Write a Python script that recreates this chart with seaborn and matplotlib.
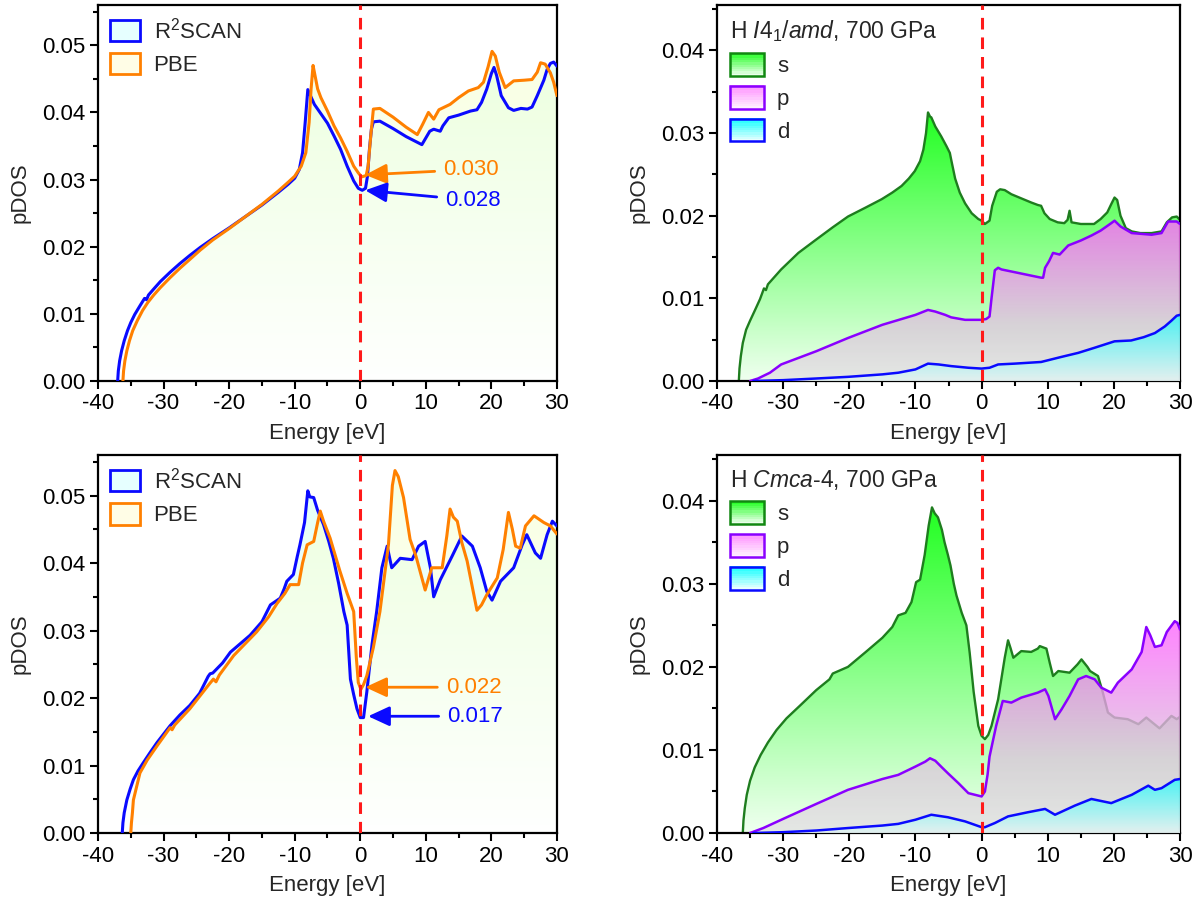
import numpy as np
import matplotlib
matplotlib.use("Agg")
import matplotlib.pyplot as plt
import seaborn as sns
from matplotlib.colors import LinearSegmentedColormap
from matplotlib.patches import Polygon, Rectangle, Patch
from matplotlib.legend_handler import HandlerBase
from matplotlib.ticker import MultipleLocator, FormatStrFormatter

# ---------------- data ----------------
# top-left : R2SCAN vs PBE (total pDOS)
tl_r2_E = [-37.0, -36.9, -36.7, -36.4, -36.0, -35.5, -35.0, -34.4, -33.6, -32.9, -32.6, -32.3, -31.5, -30.5,
           -29.0, -27.5, -26.0, -24.4, -22.5, -20.0, -17.5, -15.0, -12.5, -11.0, -10.0, -9.3, -8.8, -8.4, -8.0,
           -7.6, -7.0, -6.0, -5.0, -4.0, -3.0, -2.0, -1.0, -0.3, 0.3, 0.8, 1.1, 1.4, 1.7, 2.0, 3.0, 5.0, 7.0,
           9.4, 10.0, 10.6, 11.2, 12.2, 12.6, 13.5, 15.0, 16.8, 17.8, 18.5, 19.3, 20.0, 20.4, 20.8, 21.5, 22.6,
           23.4, 24.5, 25.5, 26.2, 27.0, 28.0, 28.5, 29.0, 29.5, 30.0]
tl_r2_D = [0.0, 0.0015, 0.003, 0.0045, 0.006, 0.0075, 0.0087, 0.0099, 0.0112, 0.0123, 0.0121, 0.0128, 0.0137,
           0.0148, 0.0162, 0.0175, 0.0187, 0.0199, 0.0212, 0.0228, 0.0245, 0.0262, 0.0281, 0.0293, 0.0302,
           0.0315, 0.034, 0.0385, 0.0434, 0.0425, 0.0412, 0.0398, 0.0384, 0.0365, 0.0345, 0.032, 0.0298,
           0.0287, 0.0284, 0.0287, 0.0305, 0.0345, 0.0375, 0.0386, 0.0387, 0.0376, 0.0364, 0.0352, 0.0362,
           0.0372, 0.0375, 0.0372, 0.038, 0.0392, 0.0396, 0.0402, 0.0404, 0.0415, 0.0435, 0.0458, 0.0467,
           0.0455, 0.0425, 0.0407, 0.0403, 0.0406, 0.0405, 0.0408, 0.0425, 0.0448, 0.0464, 0.0473, 0.0475,
           0.0469]
tl_pbe_E = [-36.2, -36.1, -35.9, -35.6, -35.2, -34.7, -34.0, -33.2, -32.4, -31.5, -30.5, -29.0, -27.5, -26.0,
            -24.4, -22.5, -20.0, -17.5, -15.0, -12.5, -11.0, -10.0, -9.0, -8.3, -7.8, -7.5, -7.2, -6.9, -6.5,
            -6.0, -5.0, -4.0, -3.0, -2.0, -1.0, -0.3, 0.2, 0.9, 1.2, 1.6, 2.0, 3.0, 5.0, 7.0, 8.7, 9.5, 10.4,
            11.2, 12.0, 13.7, 15.0, 16.5, 18.0, 18.8, 19.5, 20.1, 20.6, 21.2, 22.1, 23.4, 25.0, 26.2, 27.0,
            27.5, 28.2, 29.0, 29.5, 30.0]
tl_pbe_D = [0.0, 0.0015, 0.003, 0.0045, 0.006, 0.0075, 0.009, 0.0105, 0.0117, 0.0128, 0.0139, 0.0154, 0.0168,
            0.0181, 0.0195, 0.021, 0.0227, 0.0245, 0.0263, 0.0283, 0.0296, 0.0305, 0.032, 0.034, 0.0385,
            0.0435, 0.047, 0.0455, 0.0435, 0.0422, 0.0402, 0.038, 0.0362, 0.0342, 0.032, 0.031, 0.0304,
            0.0306, 0.032, 0.0365, 0.0405, 0.0406, 0.0393, 0.0378, 0.0367, 0.0382, 0.04, 0.039, 0.0404,
            0.0412, 0.0422, 0.0432, 0.0437, 0.0445, 0.0468, 0.0491, 0.0484, 0.046, 0.0437, 0.0447, 0.0448,
            0.0449, 0.046, 0.0474, 0.0472, 0.0459, 0.0445, 0.0425]

# bottom-left : R2SCAN vs PBE (total pDOS)
bl_r2_E = [-36.3, -36.2, -36.0, -35.6, -35.1, -34.6, -33.9, -33.1, -32.0, -31.0, -29.0, -27.5, -26.0, -24.5,
           -23.2, -22.9, -22.5, -21.0, -19.8, -18.0, -16.8, -15.0, -13.7, -12.2, -11.6, -11.2, -10.2, -9.6,
           -9.2, -8.5, -8.0, -7.7, -7.1, -6.5, -5.6, -4.8, -4.1, -3.3, -2.5, -2.0, -1.5, -1.0, -0.5, 0.0, 0.5,
           1.0, 1.8, 2.5, 3.3, 4.1, 4.8, 6.1, 7.9, 8.9, 9.9, 10.7, 11.2, 12.2, 14.0, 15.5, 17.1, 18.3, 19.3,
           20.1, 21.4, 23.4, 24.7, 25.4, 26.7, 27.5, 28.5, 29.3, 30.0]
bl_r2_D = [0.0, 0.0015, 0.003, 0.0049, 0.0065, 0.0079, 0.0092, 0.0104, 0.012, 0.0134, 0.0159, 0.0175, 0.0189,
           0.0207, 0.0232, 0.0236, 0.0237, 0.0252, 0.0268, 0.0283, 0.0293, 0.0313, 0.0338, 0.0348, 0.0362,
           0.0373, 0.0383, 0.041, 0.0427, 0.046, 0.0507, 0.0498, 0.0497, 0.0478, 0.0457, 0.0432, 0.0407,
           0.037, 0.0328, 0.0308, 0.0228, 0.0205, 0.0184, 0.0171, 0.0171, 0.0209, 0.028, 0.0328, 0.0393,
           0.0425, 0.0393, 0.0407, 0.0405, 0.0425, 0.0432, 0.0393, 0.035, 0.0375, 0.041, 0.044, 0.0425,
           0.0393, 0.0358, 0.0345, 0.0373, 0.0393, 0.0427, 0.0442, 0.0415, 0.0407, 0.0442, 0.0462, 0.0455]
bl_pbe_E = [-35.0, -34.9, -34.75, -34.6, -34.2, -33.6, -32.5, -31.0, -29.3, -29.0, -28.7, -28.3, -26.0, -23.0,
            -22.4, -22.0, -21.5, -19.3, -17.5, -15.8, -14.0, -12.7, -11.5, -10.7, -9.4, -8.8, -8.1, -7.1,
            -6.5, -6.1, -5.6, -4.6, -3.1, -2.0, -1.0, -0.6, -0.3, 0.1, 0.5, 1.0, 2.0, 3.0, 4.3, 4.9, 5.3, 5.8,
            6.6, 7.6, 8.5, 9.9, 10.9, 12.5, 13.2, 13.7, 14.2, 14.8, 15.5, 16.3, 17.8, 18.5, 19.3, 20.9, 21.8,
            22.6, 23.2, 23.7, 24.4, 25.2, 26.5, 28.0, 29.0, 30.0]
bl_pbe_D = [0.0, 0.0015, 0.003, 0.0049, 0.0065, 0.0089, 0.0108, 0.0129, 0.0152, 0.0156, 0.0153, 0.016,
            0.0184, 0.0221, 0.0228, 0.0224, 0.0234, 0.0263, 0.0281, 0.0298, 0.032, 0.034, 0.0355, 0.0368,
            0.0368, 0.04, 0.0427, 0.0432, 0.046, 0.0477, 0.0462, 0.0437, 0.0388, 0.0355, 0.0328, 0.026,
            0.0223, 0.0213, 0.022, 0.0233, 0.0275, 0.0328, 0.0427, 0.0515, 0.0537, 0.0528, 0.0497, 0.0435,
            0.041, 0.036, 0.0393, 0.0393, 0.044, 0.048, 0.0468, 0.0462, 0.043, 0.0403, 0.033, 0.0338,
            0.0353, 0.0378, 0.042, 0.0475, 0.045, 0.0425, 0.0422, 0.0455, 0.047, 0.046, 0.0455, 0.0443]

# top-right : H I4_1/amd, s / p / d
tr_s_E = [-36.7, -36.6, -36.4, -36.1, -35.6, -35.0, -34.3, -33.5, -32.9, -32.6, -32.3, -31.3, -30.3, -29.0,
          -27.7, -25.2, -22.5, -20.2, -17.5, -15.1, -13.5, -12.1, -11.0, -10.1, -9.3, -8.8, -8.4, -8.1, -7.8,
          -7.6, -7.0, -6.1, -5.3, -4.8, -4.6, -4.0, -3.3, -2.5, -1.5, -0.5, 0.0, 0.5, 1.2, 1.6, 2.3, 2.8, 3.5,
          4.5, 6.0, 7.5, 8.5, 9.0, 9.5, 10.3, 11.5, 12.5, 13.0, 13.3, 13.6, 15.0, 17.0, 18.0, 19.0, 19.6,
          20.1, 20.5, 21.0, 21.8, 22.7, 24.0, 25.7, 27.2, 28.0, 28.8, 29.5, 30.0]
tr_s_D = [0.0, 0.0015, 0.003, 0.0046, 0.0062, 0.0073, 0.0085, 0.0099, 0.0112, 0.011, 0.0117, 0.0126, 0.0135,
          0.0145, 0.0155, 0.017, 0.0186, 0.0199, 0.021, 0.022, 0.0228, 0.0236, 0.0245, 0.0254, 0.0266, 0.028,
          0.03, 0.0325, 0.032, 0.0319, 0.0308, 0.0296, 0.0284, 0.0276, 0.0268, 0.0245, 0.0228, 0.0215,
          0.0203, 0.0196, 0.0194, 0.019, 0.0194, 0.0212, 0.0229, 0.0232, 0.0231, 0.0226, 0.0221, 0.0216,
          0.0213, 0.0212, 0.0203, 0.0196, 0.0192, 0.0191, 0.0195, 0.0206, 0.0192, 0.019, 0.019, 0.0196,
          0.0204, 0.0214, 0.0222, 0.0219, 0.02, 0.0185, 0.0181, 0.0179, 0.0179, 0.0181, 0.0192, 0.0198,
          0.0199, 0.0195]
tr_p_E = [-35.0, -33.8, -32.0, -30.3, -25.0, -20.2, -15.0, -10.0, -8.1, -7.0, -5.5, -4.6, -2.5, 0.0, 0.7, 1.2,
          1.5, 2.0, 2.5, 3.0, 6.0, 9.0, 9.3, 9.6, 10.2, 10.8, 11.8, 13.1, 15.0, 16.6, 18.0, 19.6, 20.1, 21.0,
          22.7, 25.7, 27.2, 28.2, 29.5, 30.0]
tr_p_D = [0.0, 0.0003, 0.001, 0.002, 0.0036, 0.0052, 0.0068, 0.008, 0.0086, 0.0084, 0.008, 0.0077, 0.0074,
          0.0074, 0.0075, 0.0078, 0.01, 0.0134, 0.0137, 0.0135, 0.013, 0.0125, 0.0125, 0.0137, 0.0145,
          0.0155, 0.0153, 0.0164, 0.017, 0.0176, 0.0182, 0.0191, 0.0194, 0.0187, 0.0179, 0.0177, 0.0179,
          0.0193, 0.0193, 0.019]
tr_d_E = [-34.5, -30.0, -25.0, -20.2, -15.0, -12.6, -10.0, -8.1, -6.5, -4.6, -2.0, 0.0, 1.2, 2.5, 5.0, 9.0,
          12.0, 14.6, 17.0, 20.1, 22.6, 24.5, 26.2, 27.7, 28.7, 29.5, 30.0]
tr_d_D = [0.0, 0.0001, 0.0003, 0.0005, 0.0008, 0.001, 0.0014, 0.0021, 0.002, 0.0018, 0.0016, 0.0015, 0.0016,
          0.002, 0.0021, 0.0023, 0.0029, 0.0034, 0.004, 0.0048, 0.0049, 0.0053, 0.0058, 0.0066, 0.0073,
          0.0079, 0.008]

# bottom-right : H Cmca-4, s / p / d
br_s_E = [-36.1, -36.0, -35.8, -35.5, -35.0, -34.3, -33.4, -32.3, -31.0, -29.5, -27.5, -25.0, -23.0, -22.5,
          -20.2, -17.5, -15.0, -13.5, -12.6, -11.5, -10.6, -9.9, -9.3, -8.6, -8.0, -7.5, -7.1, -6.6, -6.0,
          -5.6, -5.1, -4.7, -4.2, -3.8, -3.0, -2.3, -1.8, -1.2, -0.5, 0.0, 0.5, 1.0, 1.5, 2.5, 3.5, 4.0, 4.4,
          4.8, 6.0, 7.5, 8.5, 8.8, 9.8, 10.3, 10.8, 11.6, 13.3, 14.5, 15.1, 16.0, 16.4, 17.6, 18.3, 19.1,
          20.1, 22.1, 23.7, 24.9, 26.9, 28.7, 29.5, 30.0]
br_s_D = [0.0, 0.0015, 0.003, 0.0046, 0.0063, 0.0079, 0.0094, 0.0109, 0.0124, 0.0138, 0.0153, 0.0172,
          0.0185, 0.0192, 0.02, 0.0218, 0.0235, 0.0248, 0.0262, 0.0265, 0.0278, 0.0302, 0.0305, 0.0335,
          0.037, 0.0392, 0.0385, 0.038, 0.0365, 0.035, 0.0335, 0.0322, 0.03, 0.0286, 0.0265, 0.025, 0.0217,
          0.017, 0.0129, 0.0117, 0.0113, 0.0118, 0.0129, 0.0161, 0.0211, 0.0232, 0.0222, 0.0211, 0.0219,
          0.0218, 0.0222, 0.0225, 0.0222, 0.0205, 0.0189, 0.0195, 0.0193, 0.0203, 0.0209, 0.02, 0.0195,
          0.0189, 0.017, 0.0145, 0.0139, 0.0137, 0.0131, 0.0139, 0.0126, 0.0141, 0.0137, 0.014]
br_p_E = [-35.0, -33.0, -30.0, -25.0, -20.2, -15.0, -12.6, -10.0, -8.5, -7.8, -7.0, -6.0, -5.1, -3.5, -2.0,
          -1.0, 0.0, 0.5, 0.9, 1.2, 2.2, 3.2, 4.5, 6.0, 8.5, 9.6, 10.1, 11.1, 12.1, 13.3, 14.6, 15.8, 17.1,
          18.1, 19.6, 20.6, 22.7, 24.2, 24.9, 25.5, 26.2, 27.2, 28.0, 29.2, 29.6, 30.0]
br_p_D = [0.0, 0.0006, 0.0017, 0.0035, 0.0052, 0.0065, 0.007, 0.008, 0.0086, 0.009, 0.0087, 0.0079, 0.0072,
          0.006, 0.0048, 0.0046, 0.0044, 0.005, 0.007, 0.0092, 0.0129, 0.0159, 0.0157, 0.0163, 0.0169,
          0.0173, 0.0165, 0.0137, 0.0149, 0.0165, 0.0185, 0.0189, 0.0185, 0.0175, 0.0169, 0.0181, 0.0197,
          0.0218, 0.0248, 0.0238, 0.0224, 0.0226, 0.0242, 0.0255, 0.0253, 0.0245]
br_d_E = [-34.5, -30.0, -25.0, -20.2, -15.0, -12.6, -10.0, -7.6, -5.1, -2.5, 0.0, 0.5, 2.0, 4.0, 7.0, 9.6,
          11.1, 14.1, 16.6, 19.6, 22.7, 25.2, 26.2, 27.2, 29.2, 30.0]
br_d_D = [0.0, 0.0001, 0.0003, 0.0006, 0.0009, 0.0011, 0.0016, 0.0022, 0.0019, 0.0014, 0.0007, 0.0007,
          0.0012, 0.002, 0.0025, 0.0029, 0.0022, 0.0033, 0.0041, 0.0036, 0.0046, 0.0057, 0.0052, 0.0054,
          0.0064, 0.0065]

x_ticks = [-40, -30, -20, -10, 0, 10, 20, 30]
left_labels = ["R$^2$SCAN", "PBE"]
orb_labels = ["s", "p", "d"]
right_titles = [r"H $\mathit{I4_1/amd}$, 700 GPa", r"H $\mathit{Cmca}$-$\mathit{4}$, 700 GPa"]
ann_top = [("0.030", 0.75, 0.0307, 12.7, 0.0315), ("0.028", 0.75, 0.0284, 13.0, 0.0269)]
ann_bot = [("0.022", 0.76, 0.0216, 13.1, 0.0216), ("0.017", 1.2, 0.0173, 13.3, 0.0173)]

# ---------------- style ----------------
sns.set_theme(style="ticks")
plt.rcParams["font.family"] = ["Liberation Sans", "DejaVu Sans"]
plt.rcParams["mathtext.fontset"] = "custom"
plt.rcParams["mathtext.rm"] = "Liberation Sans"
plt.rcParams["mathtext.it"] = "Liberation Sans:italic"
plt.rcParams["axes.unicode_minus"] = False
FS = 16

BLUE = "#0a0aff"
ORANGE = "#ff8000"
S_LINE, S_STOPS = "#1e7d1e", ["#f0fff0", "#22ff22"]
P_LINE, P_STOPS = "#8a00ff", [(0.0, "#e2e2e2"), (0.35, "#dcc8dc"), (1.0, "#ff66ff")]
D_LINE, D_STOPS = "#0a0aff", ["#e4f4f4", "#11ffff"]


def gradient_fill(ax, x, y, stops, alpha, z):
    x = np.asarray(x, float)
    y = np.asarray(y, float)
    verts = np.vstack([np.column_stack([x, y]), [[x[-1], 0.0], [x[0], 0.0]]])
    poly = Polygon(verts, closed=True, facecolor="none", edgecolor="none", transform=ax.transData)
    ax.add_patch(poly)
    cmap = LinearSegmentedColormap.from_list("g", stops)
    grad = np.linspace(0, 1, 256).reshape(-1, 1)
    im = ax.imshow(grad, extent=[x.min(), x.max(), 0, y.max()], origin="lower", aspect="auto",
                   cmap=cmap, alpha=alpha, zorder=z, interpolation="bilinear")
    im.set_clip_path(poly)


class GradHandler(HandlerBase):
    def __init__(self, top, bot, edge):
        super().__init__()
        self.top, self.bot, self.edge = top, bot, edge

    def create_artists(self, legend, orig_handle, xdescent, ydescent, width, height, fontsize, trans):
        cmap = LinearSegmentedColormap.from_list("h", [self.bot, self.top])
        arts = []
        n = 10
        for i in range(n):
            arts.append(Rectangle((-xdescent, -ydescent + i * height / n), width, height / n + 0.3,
                                  facecolor=cmap((i + 0.5) / n), edgecolor="none", transform=trans))
        arts.append(Rectangle((-xdescent, -ydescent), width, height, facecolor="none",
                              edgecolor=self.edge, lw=1.8, transform=trans))
        return arts


def style_axes(ax, ylim, ymajor):
    ax.set_xlim(-40, 30)
    ax.set_ylim(0, ylim)
    ax.set_xticks(x_ticks)
    ax.xaxis.set_minor_locator(MultipleLocator(5))
    ax.yaxis.set_major_locator(MultipleLocator(ymajor))
    ax.yaxis.set_minor_locator(MultipleLocator(ymajor / 2))
    ax.yaxis.set_major_formatter(FormatStrFormatter("%.2f"))
    ax.tick_params(which="both", direction="out", top=False, right=False, width=1.5, labelsize=FS,
                   colors="black", pad=3)
    ax.tick_params(which="major", length=6)
    ax.tick_params(which="minor", length=3.5)
    for sp in ax.spines.values():
        sp.set_visible(True)
        sp.set_linewidth(1.6)
        sp.set_color("black")
    ax.set_xlabel("Energy [eV]", fontsize=FS, labelpad=6)
    ax.set_ylabel("pDOS", fontsize=FS, labelpad=8)
    ax.axvline(0, color="#ff1a1a", lw=2.2, ls=(0, (3.8, 2.6)), zorder=10)
    ax.set_facecolor("white")


fig = plt.figure(figsize=(11.98, 9.11), dpi=100)
axL = [fig.add_axes([0.0818, 0.5818, 0.3831, 0.4127]), fig.add_axes([0.0818, 0.0856, 0.3831, 0.4149])]
axR = [fig.add_axes([0.5985, 0.5818, 0.3865, 0.4127]), fig.add_axes([0.5985, 0.0856, 0.3865, 0.4149])]

# left panels
left_sets = [(tl_r2_E, tl_r2_D, tl_pbe_E, tl_pbe_D, ann_top), (bl_r2_E, bl_r2_D, bl_pbe_E, bl_pbe_D, ann_bot)]
for ax, (rE, rD, pE, pD, anns) in zip(axL, left_sets):
    gradient_fill(ax, rE, rD, ["#ffffff", "#d0fff0"], 0.55, 1)
    gradient_fill(ax, pE, pD, ["#ffffff", "#f4ffcc"], 0.55, 1.1)
    sns.lineplot(x=rE, y=rD, ax=ax, color=BLUE, lw=2.2, estimator=None, sort=False, zorder=3)
    sns.lineplot(x=pE, y=pD, ax=ax, color=ORANGE, lw=2.2, estimator=None, sort=False, zorder=3.1)
    style_axes(ax, 0.056, 0.01)
    for (txt, hx, hy, tx, ty), col in zip(anns, [ORANGE, BLUE]):
        ax.annotate(txt, xy=(hx, hy), xytext=(tx, ty), color=col, fontsize=FS, va="center", ha="left",
                    zorder=12,
                    arrowprops=dict(arrowstyle="-|>,head_length=0.65,head_width=0.3", color=col, lw=2,
                                    mutation_scale=20, shrinkA=4, shrinkB=0))
    handles = [Patch(facecolor="#e6ffff", edgecolor=BLUE, lw=2), Patch(facecolor="#fffde6", edgecolor=ORANGE, lw=2)]
    ax.legend(handles, left_labels, loc="upper left", frameon=False, fontsize=FS, handlelength=1.35,
              handleheight=1.1, handletextpad=0.6, labelspacing=0.45, borderaxespad=0.3, borderpad=0.25)

# right panels
right_sets = [(tr_s_E, tr_s_D, tr_p_E, tr_p_D, tr_d_E, tr_d_D), (br_s_E, br_s_D, br_p_E, br_p_D, br_d_E, br_d_D)]
for ax, (sE, sD, pE, pD, dE, dD), title in zip(axR, right_sets, right_titles):
    gradient_fill(ax, sE, sD, S_STOPS, 1.0, 1)
    sns.lineplot(x=sE, y=sD, ax=ax, color=S_LINE, lw=1.7, estimator=None, sort=False, zorder=2)
    gradient_fill(ax, pE, pD, P_STOPS, 0.8, 3)
    sns.lineplot(x=pE, y=pD, ax=ax, color=P_LINE, lw=1.8, estimator=None, sort=False, zorder=4)
    gradient_fill(ax, dE, dD, D_STOPS, 0.7, 5)
    sns.lineplot(x=dE, y=dD, ax=ax, color=D_LINE, lw=1.8, estimator=None, sort=False, zorder=6)
    style_axes(ax, 0.0455, 0.01)
    hs = [Patch(label=l) for l in orb_labels]
    hmap = {hs[0]: GradHandler(S_STOPS[-1], "#f4fff4", "#118811"),
            hs[1]: GradHandler("#ff90ff", "#fff4ff", "#8a00ff"),
            hs[2]: GradHandler("#11ffff", "#f4ffff", "#0a0aff")}
    leg = ax.legend(handles=hs, labels=orb_labels, handler_map=hmap, loc="upper left", frameon=False,
                    fontsize=FS, title=title, title_fontsize=FS + 0.5, alignment="left", handlelength=1.5,
                    handleheight=1.2, handletextpad=0.6, labelspacing=0.4, borderaxespad=0.3,
                    borderpad=0.3)

fig.savefig("out.png", dpi=100)
